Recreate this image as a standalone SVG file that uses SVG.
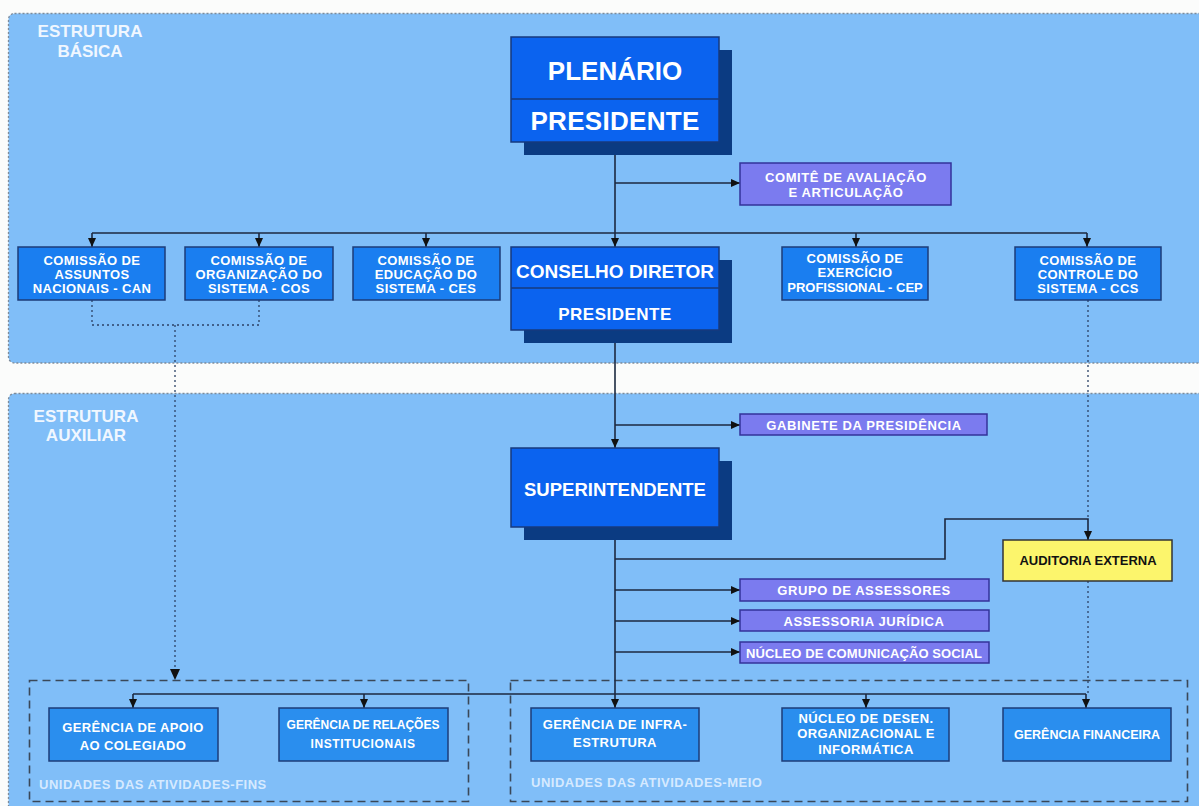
<svg xmlns="http://www.w3.org/2000/svg" width="1199" height="806" viewBox="0 0 1199 806">
<style>
.panel{fill:#80bef8;stroke:#7d8b9a;stroke-width:1.3;stroke-dasharray:2 2}
.big{fill:#0b63ef;stroke:#173a7e;stroke-width:1.5}
.shadow{fill:#0b3b82}
.com{fill:#1a7ef0;stroke:#1d3c78;stroke-width:1.5}
.ger{fill:#2a8eee;stroke:#1d3c78;stroke-width:1.5}
.pur{fill:#7b7bef;stroke:#33339a;stroke-width:1.5}
.yel{fill:#fcf56c;stroke:#333;stroke-width:1.5}
.dash{fill:none;stroke:#3a4858;stroke-width:1.6;stroke-dasharray:8 5}
text{font-family:"Liberation Sans",Arial,sans-serif;font-weight:bold;fill:#ffffff;text-anchor:middle}
.lbl{font-size:17px;fill:#f0f7ff}
.t13{font-size:13px;letter-spacing:0.4px}
.tp{font-size:13px;letter-spacing:0.6px}
.tu{font-size:13px;fill:#d6eaff;text-anchor:start;letter-spacing:0.5px}
.ln{fill:none;stroke:#1c2940;stroke-width:1.6}
.dot{fill:none;stroke:#2c4266;stroke-width:1.3;stroke-dasharray:2 3}
</style>
<defs>
<marker id="ah" markerUnits="userSpaceOnUse" markerWidth="10" markerHeight="10" refX="9" refY="4" orient="auto">
<path d="M0,0 L9,4 L0,8 z" fill="#111"/>
</marker>
<marker id="ahb" markerUnits="userSpaceOnUse" markerWidth="12" markerHeight="12" refX="11" refY="5" orient="auto">
<path d="M0,0 L11,5 L0,10 z" fill="#111"/>
</marker>
</defs>
<rect x="0" y="0" width="1199" height="806" fill="#fbfcfb"/>
<rect x="8.5" y="13.5" width="1200" height="349.5" rx="6" class="panel"/>
<rect x="8.5" y="393.5" width="1200" height="420" rx="6" class="panel"/>
<g id="labels">
<text class="lbl" x="90" y="37">ESTRUTURA</text>
<text class="lbl" x="90" y="57">BÁSICA</text>
<text class="lbl" x="86" y="422">ESTRUTURA</text>
<text class="lbl" x="86" y="441">AUXILIAR</text>
</g>
<g id="groups">
<rect x="29.5" y="680.5" width="439" height="121" class="dash"/>
<rect x="510.5" y="680.5" width="677" height="121" class="dash"/>
<text class="tu" x="39" y="789">UNIDADES DAS ATIVIDADES-FINS</text>
<text class="tu" x="531" y="787">UNIDADES DAS ATIVIDADES-MEIO</text>
</g>
<g id="connectors">
<path class="ln" d="M615,142 V247" marker-end="url(#ah)"/>
<path class="ln" d="M615,183 H740" marker-end="url(#ah)"/>
<path class="ln" d="M92,233 H1087"/>
<path class="ln" d="M92,233 V247" marker-end="url(#ah)"/>
<path class="ln" d="M259,233 V247" marker-end="url(#ah)"/>
<path class="ln" d="M426,233 V247" marker-end="url(#ah)"/>
<path class="ln" d="M856,233 V247" marker-end="url(#ah)"/>
<path class="ln" d="M1087,233 V247" marker-end="url(#ah)"/>
<path class="ln" d="M615,330 V448" marker-end="url(#ah)"/>
<path class="ln" d="M615,425 H740" marker-end="url(#ah)"/>
<path class="ln" d="M615,527 V708" marker-end="url(#ah)"/>
<path class="ln" d="M615,559 H945 V519 H1088 V540" marker-end="url(#ah)"/>
<path class="ln" d="M615,590 H740" marker-end="url(#ah)"/>
<path class="ln" d="M615,621 H740" marker-end="url(#ah)"/>
<path class="ln" d="M615,652 H740" marker-end="url(#ah)"/>
<path class="ln" d="M133,694 H1086"/>
<path class="ln" d="M133,694 V708" marker-end="url(#ah)"/>
<path class="ln" d="M364,694 V708" marker-end="url(#ah)"/>
<path class="ln" d="M866,694 V708" marker-end="url(#ah)"/>
<path class="ln" d="M1086,694 V708" marker-end="url(#ah)"/>
<path class="dot" d="M92,300 V325 H259 V300"/>
<path class="dot" d="M175,325 V680" marker-end="url(#ahb)"/>
<path class="dot" d="M1088,300 V519"/>
<path class="dot" d="M1088,581 V694"/>
</g>
<g id="plenario">
<rect x="524" y="50" width="208" height="105" class="shadow"/>
<rect x="511" y="37" width="208" height="105" class="big"/>
<line x1="511" y1="99" x2="719" y2="99" stroke="#173a7e" stroke-width="1.5"/>
<text x="615" y="80" font-size="26">PLENÁRIO</text>
<text x="615" y="130" font-size="26" letter-spacing="0.3">PRESIDENTE</text>
</g>
<g id="comite">
<rect x="740" y="163" width="211" height="42" class="pur"/>
<text class="tp" x="846" y="182">COMITÊ DE AVALIAÇÃO</text>
<text class="tp" x="846" y="197">E ARTICULAÇÃO</text>
</g>
<g id="can">
<rect x="18" y="247" width="147" height="53" class="com"/>
<text class="t13" x="92" y="265">COMISSÃO DE</text>
<text class="t13" x="92" y="279">ASSUNTOS</text>
<text class="t13" x="92" y="293">NACIONAIS - CAN</text>
</g>
<g id="cos">
<rect x="185" y="247" width="148" height="53" class="com"/>
<text class="t13" x="259" y="265">COMISSÃO DE</text>
<text class="t13" x="259" y="279">ORGANIZAÇÃO DO</text>
<text class="t13" x="259" y="293">SISTEMA - COS</text>
</g>
<g id="ces">
<rect x="353" y="247" width="147" height="53" class="com"/>
<text class="t13" x="426" y="265">COMISSÃO DE</text>
<text class="t13" x="426" y="279">EDUCAÇÃO DO</text>
<text class="t13" x="426" y="293">SISTEMA - CES</text>
</g>
<g id="conselho">
<rect x="524" y="260" width="208" height="83" class="shadow"/>
<rect x="511" y="247" width="208" height="83" class="big"/>
<line x1="511" y1="288" x2="719" y2="288" stroke="#173a7e" stroke-width="1.5"/>
<text x="615" y="278" font-size="19">CONSELHO DIRETOR</text>
<text x="615" y="320" font-size="17" letter-spacing="0.5">PRESIDENTE</text>
</g>
<g id="cep">
<rect x="782" y="247" width="146" height="53" class="com"/>
<text x="855" y="263" font-size="13" letter-spacing="0.4">COMISSÃO DE</text>
<text x="855" y="277" font-size="13" letter-spacing="0.4">EXERCÍCIO</text>
<text x="855" y="292" font-size="13">PROFISSIONAL - CEP</text>
</g>
<g id="ccs">
<rect x="1015" y="247" width="146" height="53" class="com"/>
<text class="t13" x="1088" y="265">COMISSÃO DE</text>
<text class="t13" x="1088" y="279">CONTROLE DO</text>
<text class="t13" x="1088" y="293">SISTEMA - CCS</text>
</g>
<g id="gabinete">
<rect x="740" y="414" width="247" height="21" class="pur"/>
<text class="tp" x="864" y="429.5">GABINETE DA PRESIDÊNCIA</text>
</g>
<g id="superintendente">
<rect x="524" y="461" width="208" height="79" class="shadow"/>
<rect x="511" y="448" width="208" height="79" class="big"/>
<text x="615" y="496" font-size="18.5">SUPERINTENDENTE</text>
</g>
<g id="auditoria">
<rect x="1003" y="540" width="169" height="41" class="yel"/>
<text x="1088" y="565" font-size="13" style="fill:#111">AUDITORIA EXTERNA</text>
</g>
<g id="grupo">
<rect x="740" y="579" width="249" height="22" class="pur"/>
<text class="tp" x="864" y="595">GRUPO DE ASSESSORES</text>
</g>
<g id="juridica">
<rect x="740" y="610" width="249" height="21" class="pur"/>
<text class="tp" x="864" y="626">ASSESSORIA JURÍDICA</text>
</g>
<g id="nucleo-com">
<rect x="740" y="642" width="249" height="21" class="pur"/>
<text x="864" y="658" font-size="13" letter-spacing="0.1">NÚCLEO DE COMUNICAÇÃO SOCIAL</text>
</g>
<g id="apoio">
<rect x="49" y="708" width="169" height="53" class="ger"/>
<text class="t13" x="133" y="732">GERÊNCIA DE APOIO</text>
<text class="t13" x="133" y="750">AO COLEGIADO</text>
</g>
<g id="relacoes">
<rect x="279" y="708" width="169" height="53" class="ger"/>
<text x="363" y="729" font-size="12">GERÊNCIA DE RELAÇÕES</text>
<text x="363" y="748" font-size="12" letter-spacing="0.6">INSTITUCIONAIS</text>
</g>
<g id="infra">
<rect x="531" y="708" width="168" height="53" class="ger"/>
<text class="t13" x="615" y="729">GERÊNCIA DE INFRA-</text>
<text class="t13" x="615" y="747">ESTRUTURA</text>
</g>
<g id="nucleo-desen">
<rect x="782" y="708" width="167" height="53" class="ger"/>
<text class="t13" x="866" y="723">NÚCLEO DE DESEN.</text>
<text class="t13" x="866" y="738">ORGANIZACIONAL E</text>
<text class="t13" x="866" y="754">INFORMÁTICA</text>
</g>
<g id="financeira">
<rect x="1003" y="708" width="168" height="53" class="ger"/>
<text x="1087" y="739" font-size="12.5">GERÊNCIA FINANCEIRA</text>
</g>
</svg>
